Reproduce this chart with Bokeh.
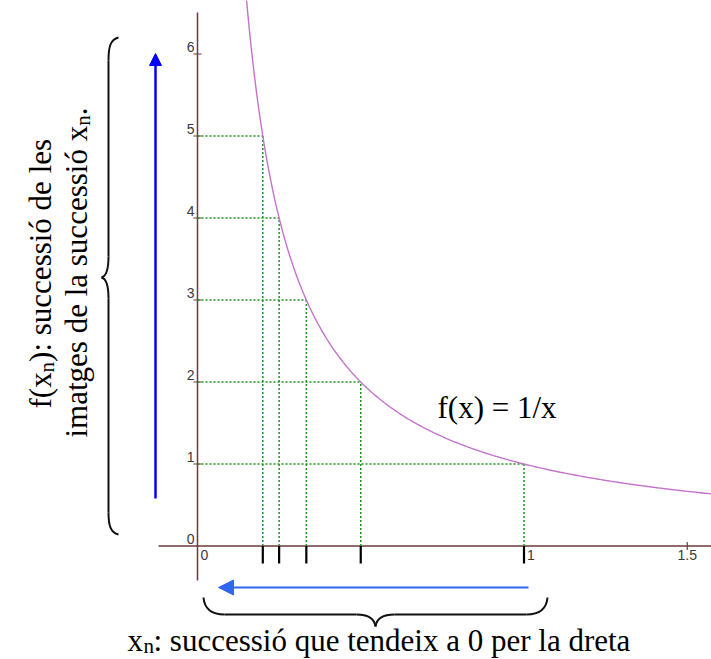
import numpy as np
from math import pi
from bokeh.plotting import figure
from bokeh.models import Range1d, Arrow, NormalHead
from bokeh.core.properties import value
from bokeh.embed import file_html
from bokeh.resources import INLINE

# ---------------- data ----------------
seq_x = [1 / 5, 1 / 4, 1 / 3, 1 / 2, 1.0]      # x_n
seq_y = [5, 4, 3, 2, 1]                          # f(x_n)
y_ticks = [0, 1, 2, 3, 4, 5, 6]
y_tick_labels = ["0", "1", "2", "3", "4", "5", "6"]
x_ticks_left = [0, 1]
x_tick_labels_left = ["0", "1"]
x_ticks_center = [1.5]
x_tick_labels_center = ["1.5"]
curve_x = np.linspace(0.145, 1.6, 400)
curve_y = 1.0 / curve_x                          # f(x) = 1/x

# ---------------- page geometry ----------------
W, H = 711, 659
OFF = 0                      # page offset of the canvas
PX0, PY0 = 197.0, 545.5      # page pixel of the origin
UX, UY = 326.5, 82.0         # pixels per unit


def X(px):
    return (px - PX0) / UX


def Y(py):
    return (PY0 - py) / UY


p = figure(width=W, height=H,
           x_range=Range1d(X(OFF), X(OFF + W)), y_range=Range1d(Y(OFF + H), Y(OFF)),
           output_backend="svg", toolbar_location=None, tools="",
           x_axis_location=None, y_axis_location=None, min_border=0)
p.grid.visible = False
p.outline_line_color = None
p.background_fill_color = "white"
p.border_fill_color = "white"

# ---------------- axes ----------------
AX = "#6d3a3a"
p.segment(x0=[X(158), 0], y0=[0, Y(580)], x1=[X(OFF + W), 0], y1=[0, Y(12)],
          line_color=AX, line_width=1.5)
ytk = y_ticks[1:]
p.segment(x0=[-4 / UX] * len(ytk), y0=ytk, x1=[4 / UX] * len(ytk), y1=ytk,
          line_color=AX, line_width=1.2)
p.segment(x0=x_ticks_center, y0=[4 / UY], x1=x_ticks_center, y1=[-4 / UY],
          line_color=AX, line_width=1.2)

lab = dict(text_font=value("Liberation Sans"), text_font_size="14px", text_color="#3a3a3a")
p.text(x=[0] * len(y_ticks), y=y_ticks, text=y_tick_labels, x_offset=-3, y_offset=-2,
       text_align="right", text_baseline="bottom", **lab)
p.text(x=x_ticks_left, y=[0] * len(x_ticks_left), text=x_tick_labels_left, x_offset=3,
       y_offset=4, text_align="left", text_baseline="top", **lab)
p.text(x=x_ticks_center, y=[0], text=x_tick_labels_center, y_offset=4,
       text_align="center", text_baseline="top", **lab)

# ---------------- dotted guides ----------------
G = "#169a16"
n = len(seq_x)
p.segment(x0=[0] * n, y0=seq_y, x1=seq_x, y1=seq_y, line_color=G, line_width=1.5,
          line_dash="2 2")
p.segment(x0=seq_x, y0=[0] * n, x1=seq_x, y1=seq_y, line_color=G, line_width=1.5,
          line_dash="2 2")

# black marks of x_n on the x axis
p.segment(x0=seq_x, y0=[0] * n, x1=seq_x, y1=[-17.5 / UY] * n, line_color="black",
          line_width=2.2)

# ---------------- curve ----------------
p.line(curve_x, curve_y, line_color="#c472cc", line_width=1.4)

# ---------------- arrows ----------------
B1 = "#0000ff"
p.add_layout(Arrow(end=NormalHead(size=12, fill_color=B1, line_color=B1),
                   x_start=X(155), y_start=Y(498), x_end=X(155), y_end=Y(53),
                   line_color=B1, line_width=2.5))
B2 = "#3366ee"
p.add_layout(Arrow(end=NormalHead(size=15, fill_color=B2, line_color=B2),
                   x_start=X(528), y_start=Y(587), x_end=X(218), y_end=Y(587),
                   line_color=B2, line_width=2))

# ---------------- braces ----------------
def bez(pts):
    (a, b, c, d) = pts
    p.bezier(x0=[X(a[0])], y0=[Y(a[1])], x1=[X(d[0])], y1=[Y(d[1])],
             cx0=[X(b[0])], cy0=[Y(b[1])], cx1=[X(c[0])], cy1=[Y(c[1])],
             line_color="#111111", line_width=2)


def seg(a, b):
    p.segment(x0=[X(a[0])], y0=[Y(a[1])], x1=[X(b[0])], y1=[Y(b[1])],
              line_color="#111111", line_width=2)


# left brace
bez([(118, 37), (110, 39), (108, 46), (108, 60)])
seg((108, 60), (108, 256))
bez([(108, 256), (108, 270), (105, 276), (101, 277)])
bez([(101, 277), (105, 278), (108, 284), (108, 298)])
seg((108, 298), (108, 512))
bez([(108, 512), (108, 525), (110, 532), (118, 534)])

# bottom brace
bez([(203, 597), (204, 609), (211, 614), (224, 614)])
seg((224, 614), (356, 614))
bez([(356, 614), (369, 614), (374, 619), (375, 626)])
bez([(375, 626), (376, 619), (381, 614), (394, 614)])
seg((394, 614), (526, 614))
bez([(526, 614), (539, 614), (546, 609), (547, 597)])

# ---------------- texts ----------------
def txt(px, py, s, size, angle=0.0):
    p.text(x=[X(px)], y=[Y(py)], text=[s], angle=angle, text_align="left",
           text_baseline="alphabetic", text_font=value("Liberation Serif"),
           text_font_size=f"{size}px", text_color="black")


txt(437, 407, "f(x) = 1/x", 31)

# vertical label, line 1
txt(40, 408, "f(x", 31, pi / 2)
txt(46, 371.9, "n", 21, pi / 2)
txt(40, 361.4, "): successió de les", 31, pi / 2)
# vertical label, line 2
txt(76, 437, "imatges de la successió x", 31, pi / 2)
txt(82, 125.3, "n", 21, pi / 2)
txt(76, 114.8, ".", 31, pi / 2)

# bottom label
txt(127, 640, "x", 31)
txt(143, 645, "n", 21)
txt(153, 640, ": successió que tendeix a 0 per la dreta", 31)

open("out.html", "w").write(file_html(p, INLINE))
